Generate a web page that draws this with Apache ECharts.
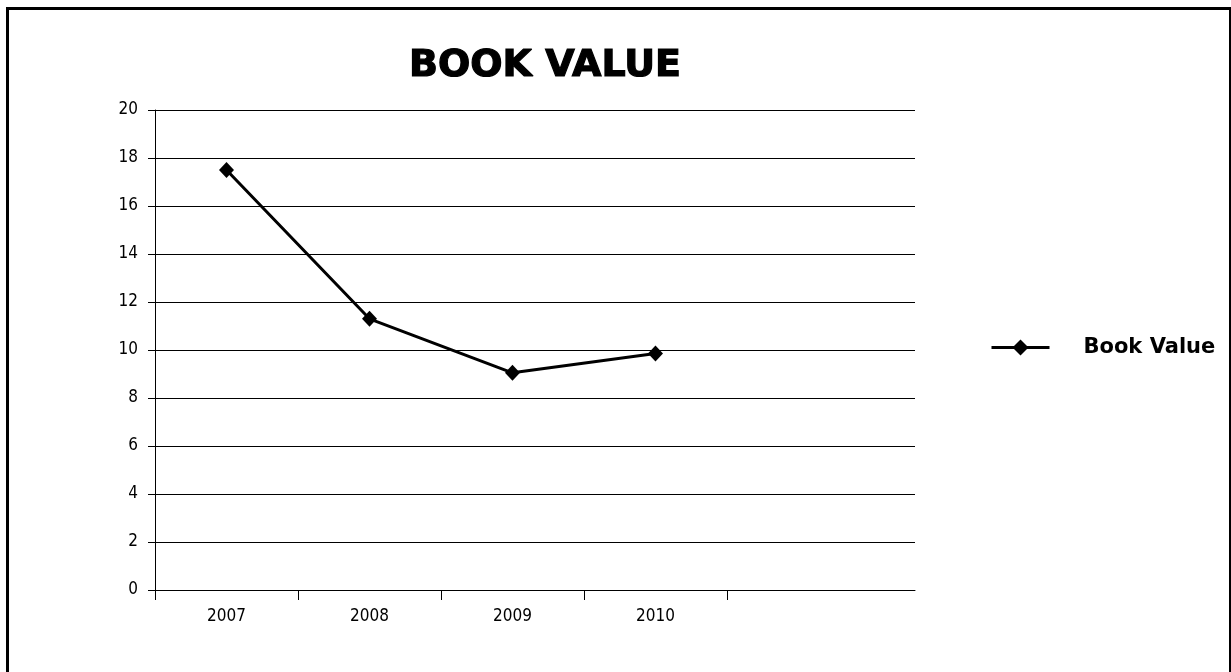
<!DOCTYPE html>
<html>
<head>
<meta charset="utf-8">
<title>Book Value</title>
<script src="https://cdn.jsdelivr.net/npm/echarts@6/dist/echarts.min.js"></script>
<style>
  html, body { margin: 0; padding: 0; background: #fff; }
  #chart { width: 1231px; height: 672px; }
</style>
</head>
<body>
<div id="chart"></div>
<script>
// Book value per year
const years = ['2007', '2008', '2009', '2010'];
const bookValue = [17.5, 11.3, 9.05, 9.85];
const yTicks = [0, 2, 4, 6, 8, 10, 12, 14, 16, 18, 20];

const chart = echarts.init(document.getElementById('chart'), null, { renderer: 'canvas' });

// Each year occupies one unit-wide slot; its point sits in the middle of the slot.
const points = bookValue.map((v, i) => [i + 0.5, v]);
const slotEdges = years.map((_, i) => i).concat([years.length]);
const slotCenters = years.map((_, i) => i + 0.5);

const labelFont = '"DejaVu Sans Condensed", "DejaVu Sans", sans-serif';

chart.setOption({
  animation: false,
  backgroundColor: '#fff',
  title: {
    text: 'BOOK VALUE',
    left: 540,
    textAlign: 'center',
    top: 42,
    textStyle: {
      fontFamily: '"DejaVu Sans", sans-serif',
      fontWeight: 'bold',
      fontSize: 38,
      color: '#000',
      textBorderColor: '#000',
      textBorderWidth: 1.2
    }
  },
  legend: {
    data: ['Book Value'],
    left: 985,
    top: 332,
    itemWidth: 58,
    itemHeight: 20,
    itemGap: 0,
    lineStyle: { width: 3, color: '#000' },
    itemStyle: { color: '#000' },
    textStyle: {
      fontFamily: '"DejaVu Sans", sans-serif',
      fontWeight: 'bold',
      fontSize: 21,
      color: '#000',
      padding: [0, 0, 0, 29]
    }
  },
  grid: { left: 155, top: 110, right: 316, bottom: 82, containLabel: false },
  xAxis: {
    type: 'value',
    min: 0,
    max: 5.315,
    axisLine: { show: true, onZero: false, lineStyle: { color: '#000', width: 1 } },
    axisTick: {
      show: true,
      length: 10,
      inside: false,
      customValues: slotEdges,
      lineStyle: { color: '#000', width: 1 }
    },
    axisLabel: {
      customValues: slotCenters,
      formatter: (v) => years[Math.floor(v)] || '',
      margin: 18,
      fontFamily: labelFont,
      fontSize: 17,
      color: '#000'
    },
    splitLine: { show: false }
  },
  yAxis: {
    type: 'value',
    min: yTicks[0],
    max: yTicks[yTicks.length - 1],
    interval: 2,
    axisLine: { show: true, lineStyle: { color: '#000', width: 1 } },
    axisTick: { show: true, length: 7, lineStyle: { color: '#000', width: 1 } },
    axisLabel: {
      margin: 17,
      fontFamily: labelFont,
      fontSize: 17,
      color: '#000'
    },
    splitLine: { show: true, lineStyle: { color: '#000', width: 1 } }
  },
  series: [{
    name: 'Book Value',
    type: 'line',
    data: points,
    symbol: 'diamond',
    symbolSize: [15, 16],
    showAllSymbol: true,
    lineStyle: { color: '#000', width: 3 },
    itemStyle: { color: '#000' }
  }],
  graphic: [{
    type: 'rect',
    silent: true,
    shape: { x: 7.5, y: 8.5, width: 1223, height: 700 },
    style: { fill: 'none', stroke: '#000', lineWidth: 3 }
  }]
});
</script>
</body>
</html>
